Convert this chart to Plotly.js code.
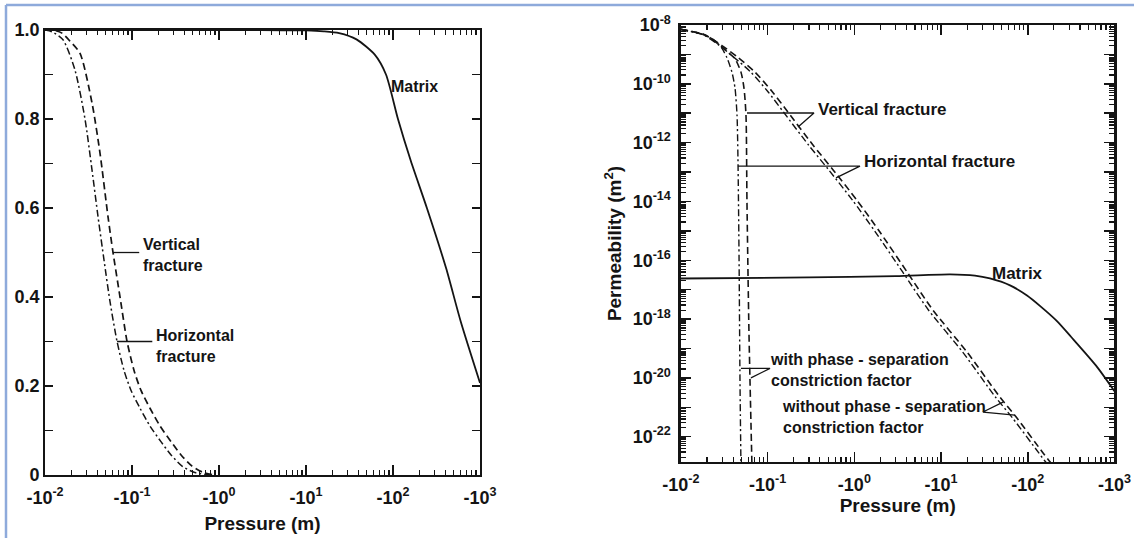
<!DOCTYPE html>
<html>
<head>
<meta charset="utf-8">
<script src="https://cdn.plot.ly/plotly-3.0.1.min.js"></script>
<style>
  html, body { margin: 0; padding: 0; background: #ffffff; }
  #chart { width: 1134px; height: 538px; }
</style>
</head>
<body>
<div id="chart"></div>
<script>
// ---------- tick labels ----------
const pressureTicks = [0.01, 0.1, 1, 10, 100, 1000];
const pressureTickText = ['-10<sup>-2</sup>', '-10<sup>-1</sup>', '-10<sup>0</sup>', '-10<sup>1</sup>', '-10<sup>2</sup>', '-10<sup>3</sup>'];
const satTicks = [0, 0.1, 0.2, 0.3, 0.4, 0.5, 0.6, 0.7, 0.8, 0.9, 1.0];
const satTickText = ['0', '', '0.2', '', '0.4', '', '0.6', '', '0.8', '', '1.0'];
const permTicks = [1e-8, 1e-9, 1e-10, 1e-11, 1e-12, 1e-13, 1e-14, 1e-15, 1e-16, 1e-17, 1e-18, 1e-19, 1e-20, 1e-21, 1e-22];
const permTickText = ['10<sup>-8</sup>', '', '10<sup>-10</sup>', '', '10<sup>-12</sup>', '', '10<sup>-14</sup>', '', '10<sup>-16</sup>', '', '10<sup>-18</sup>', '', '10<sup>-20</sup>', '', '10<sup>-22</sup>'];

// ---------- left panel: saturation vs pressure (magnitude, m) ----------
const satMatrixP = [0.01, 0.3, 3, 10, 16, 24, 38, 62, 83, 114, 160, 245, 407, 600, 1000];
const satMatrix  = [1.0, 1.0, 1.0, 0.999, 0.997, 0.993, 0.979, 0.944, 0.90, 0.80, 0.706, 0.60, 0.465, 0.345, 0.207];

const satVertP = [0.01, 0.0130, 0.01567, 0.01936, 0.0252, 0.0347, 0.0428, 0.053, 0.0605, 0.0728, 0.0877, 0.1055, 0.1268, 0.161, 0.21, 0.281, 0.366, 0.49, 0.655, 0.90];
const satVert  = [1.0, 0.999, 0.993, 0.975, 0.948, 0.836, 0.724, 0.580, 0.50, 0.40, 0.30, 0.235, 0.19, 0.15, 0.11, 0.075, 0.045, 0.02, 0.006, 0.0];

const satHorzP = [0.01, 0.01202, 0.0161, 0.0221, 0.0288, 0.0347, 0.0407, 0.0479, 0.0558, 0.0673, 0.0809, 0.0975, 0.1236, 0.161, 0.215, 0.281, 0.376, 0.516, 0.789];
const satHorz  = [1.0, 0.996, 0.978, 0.910, 0.80, 0.685, 0.580, 0.48, 0.39, 0.30, 0.235, 0.19, 0.15, 0.11, 0.075, 0.045, 0.02, 0.006, 0.0];

// ---------- right panel: permeability (m^2) vs pressure (magnitude, m) ----------
const permMatrixP = [0.01, 0.3, 3, 12.7, 24.6, 36.6, 62.4, 98, 138, 217, 315, 613, 1000];
const permMatrix  = [2.4e-17, 2.6e-17, 2.9e-17, 3.3e-17, 3.0e-17, 2.4e-17, 1.4e-17, 6.3e-18, 2.8e-18, 8.5e-19, 2.5e-19, 2.6e-20, 3.5e-21];

// without phase-separation constriction factor
const permVertNoP = [0.01, 0.0189, 0.0297, 0.0454, 0.0714, 0.112, 0.171, 0.333, 0.566, 1.07, 1.97, 4.05, 8.07, 19.9, 47.8, 75.0, 150, 180, 200];
const permVertNo  = [7.1e-9, 4.6e-9, 2.0e-9, 7.9e-10, 2.5e-10, 5.6e-11, 1.1e-11, 8.3e-13, 1.2e-13, 1.1e-14, 9.1e-16, 4.0e-17, 2.0e-18, 7.6e-20, 2.2e-21, 4.3e-22, 2.8e-23, 1.4e-23, 1.0e-23];
const permHorzNoP = [0.01, 0.0182, 0.0278, 0.0410, 0.0640, 0.0998, 0.152, 0.296, 0.504, 0.952, 1.75, 3.60, 7.18, 17.7, 42.5, 66.8, 134, 160, 178];
const permHorzNo  = [7.1e-9, 4.6e-9, 2.0e-9, 7.9e-10, 2.5e-10, 5.6e-11, 1.1e-11, 8.3e-13, 1.2e-13, 1.1e-14, 9.1e-16, 4.0e-17, 2.0e-18, 7.6e-20, 2.2e-21, 4.3e-22, 2.8e-23, 1.4e-23, 1.0e-23];

// with phase-separation constriction factor
const permVertWithP = [0.01, 0.0189, 0.0297, 0.0355, 0.042, 0.0492, 0.0533, 0.0562, 0.0577, 0.0608, 0.0659];
const permVertWith  = [7.1e-9, 4.6e-9, 1.8e-9, 1.12e-9, 7.1e-10, 2.5e-10, 7.2e-11, 8.7e-12, 1e-14, 4e-19, 1e-23];
const permHorzWithP = [0.01, 0.0189, 0.0251, 0.0297, 0.034, 0.0387, 0.042, 0.0443, 0.0454, 0.0468, 0.0479, 0.0492];
const permHorzWith  = [7.1e-9, 4.6e-9, 2.8e-9, 1.6e-9, 7.6e-10, 2.5e-10, 7.2e-11, 8.7e-12, 3.2e-13, 1e-16, 1e-20, 1e-23];

// ---------- leader lines for the labels (data units) ----------
const leadVertLeftP = [0.0605, 0.121];          const leadVertLeftS = [0.5, 0.5];
const leadHorzLeftP = [0.0673, 0.171];          const leadHorzLeftS = [0.30, 0.30];
const leadVertRightP = [0.0577, 0.342, 0.224];  const leadVertRightK = [1.02e-11, 1.02e-11, 3.4e-12];
const leadHorzRightP = [0.0454, 1.16, 0.614];   const leadHorzRightK = [1.58e-13, 1.58e-13, 6.3e-14];
const leadWithP = [0.0492, 0.1064, 0.0641];     const leadWithK = [2.1e-20, 2.1e-20, 1.0e-20];
const leadWithoutP = [51.8, 30.4, 71.1];        const leadWithoutK = [1.5e-21, 6.9e-22, 5.4e-22];

// ---------- label texts ----------
const lblMatrix = 'Matrix';
const lblVertLeft = 'Vertical<br>fracture';
const lblHorzLeft = 'Horizontal<br>fracture';
const lblVertRight = 'Vertical fracture';
const lblHorzRight = 'Horizontal fracture';
const lblWith = 'with phase - separation<br>constriction factor';
const lblWithout = 'without phase - separation<br>constriction factor';
const xTitle = 'Pressure (m)';
const yTitleRight = 'Permeability (m<sup>2</sup>)';

// ---------- minor tick positions ----------
const minorP = [];
for (let e = -2; e < 3; e++) for (let m = 2; m <= 9; m++) minorP.push(m * Math.pow(10, e));
const minorK = [];
for (let e = -23; e < -8; e++) for (let m = 2; m <= 9; m++) minorK.push(m * Math.pow(10, e));

const INK = '#141414';
const DASH = '7px,4px';
const DASHDOT = '7px,3px,2px,3px';
const FONT = 'Liberation Sans, Arial, sans-serif';

function line(x, y, xa, ya, dash, width, shape) {
  return { x: x, y: y, xaxis: xa, yaxis: ya, type: 'scatter', mode: 'lines',
    line: { color: INK, width: width || 1.6, dash: dash || 'solid', shape: shape || 'spline', smoothing: 0.7 },
    hoverinfo: 'skip' };
}

const traces = [
  line(satMatrixP, satMatrix, 'x', 'y', 'solid', 1.8),
  line(satVertP, satVert, 'x', 'y', DASH, 1.7),
  line(satHorzP, satHorz, 'x', 'y', DASHDOT, 1.5),
  line(permMatrixP, permMatrix, 'x2', 'y2', 'solid', 1.8),
  line(permVertNoP, permVertNo, 'x2', 'y2', DASH, 1.6),
  line(permHorzNoP, permHorzNo, 'x2', 'y2', DASHDOT, 1.4),
  line(permVertWithP, permVertWith, 'x2', 'y2', DASH, 1.6),
  line(permHorzWithP, permHorzWith, 'x2', 'y2', DASHDOT, 1.4),
  line(leadVertLeftP, leadVertLeftS, 'x', 'y', 'solid', 1.3, 'linear'),
  line(leadHorzLeftP, leadHorzLeftS, 'x', 'y', 'solid', 1.3, 'linear'),
  line(leadVertRightP, leadVertRightK, 'x2', 'y2', 'solid', 1.3, 'linear'),
  line(leadHorzRightP, leadHorzRightK, 'x2', 'y2', 'solid', 1.3, 'linear'),
  line(leadWithP, leadWithK, 'x2', 'y2', 'solid', 1.3, 'linear'),
  line(leadWithoutP, leadWithoutK, 'x2', 'y2', 'solid', 1.3, 'linear')
];

const tickFont = { family: FONT, size: 18, color: INK, weight: 'bold' };
const titleFont = { family: FONT, size: 19, color: INK, weight: 'bold' };

function xAxis(domain, anchor, standoff) {
  return {
    domain: domain, anchor: anchor, type: 'log', range: [-2, 3],
    tickmode: 'array', tickvals: pressureTicks, ticktext: pressureTickText,
    ticks: 'inside', ticklen: 10, tickwidth: 1.5, tickcolor: INK,
    minor: { tickmode: 'array', tickvals: minorP, ticks: 'inside', ticklen: 5, tickwidth: 1.2, tickcolor: INK, showgrid: false },
    showline: true, linewidth: 2, linecolor: INK, mirror: 'ticks',
    showgrid: false, zeroline: false, tickfont: tickFont, ticklabelstandoff: 5,
    title: { text: xTitle, font: titleFont, standoff: standoff }
  };
}

const layout = {
  width: 1134, height: 538,
  margin: { l: 0, r: 0, t: 0, b: 0 },
  paper_bgcolor: '#ffffff', plot_bgcolor: '#ffffff',
  showlegend: false,
  font: { family: FONT, size: 16, color: INK },
  xaxis: xAxis([0.0397, 0.4233], 'y', 10),
  yaxis: {
    domain: [0.1171, 0.9442], anchor: 'x', range: [0, 1],
    tickmode: 'array', tickvals: satTicks, ticktext: satTickText,
    ticks: 'inside', ticklen: 8, tickwidth: 1.5, tickcolor: INK,
    showline: true, linewidth: 2, linecolor: INK, mirror: 'ticks',
    showgrid: false, zeroline: false, tickfont: tickFont, ticklabelstandoff: 0
  },
  xaxis2: xAxis([0.6005, 0.9828], 'y2', 5),
  yaxis2: {
    domain: [0.1413, 0.9535], anchor: 'x2', type: 'log', range: [-22.86, -8],
    tickmode: 'array', tickvals: permTicks, ticktext: permTickText,
    ticks: 'inside', ticklen: 10, tickwidth: 1.5, tickcolor: INK,
    minor: { tickmode: 'array', tickvals: minorK, ticks: 'inside', ticklen: 5, tickwidth: 1.2, tickcolor: INK, showgrid: false },
    showline: true, linewidth: 2.5, linecolor: INK, mirror: 'ticks',
    showgrid: false, zeroline: false, tickfont: tickFont, ticklabelstandoff: 4,
    title: { text: yTitleRight, font: titleFont, standoff: 6 }
  },
  annotations: [
    { xref: 'x', yref: 'y', x: Math.log10(89), y: 0.874, text: lblMatrix, showarrow: false, xanchor: 'left', yanchor: 'middle', font: { family: FONT, size: 16, color: INK, weight: 'bold' } },
    { xref: 'x', yref: 'y', x: Math.log10(0.128), y: 0.495, text: lblVertLeft, showarrow: false, xanchor: 'left', yanchor: 'middle', align: 'left', font: { family: FONT, size: 16, color: INK, weight: 'bold' } },
    { xref: 'x', yref: 'y', x: Math.log10(0.180), y: 0.291, text: lblHorzLeft, showarrow: false, xanchor: 'left', yanchor: 'middle', align: 'left', font: { family: FONT, size: 16, color: INK, weight: 'bold' } },
    { xref: 'x2', yref: 'y2', x: Math.log10(0.36), y: -10.89, text: lblVertRight, showarrow: false, xanchor: 'left', yanchor: 'middle', font: { family: FONT, size: 17, color: INK, weight: 'bold' } },
    { xref: 'x2', yref: 'y2', x: Math.log10(1.22), y: -12.63, text: lblHorzRight, showarrow: false, xanchor: 'left', yanchor: 'middle', font: { family: FONT, size: 17, color: INK, weight: 'bold' } },
    { xref: 'x2', yref: 'y2', x: Math.log10(36.6), y: -16.45, text: lblMatrix, showarrow: false, xanchor: 'left', yanchor: 'middle', font: { family: FONT, size: 17, color: INK, weight: 'bold' } },
    { xref: 'x2', yref: 'y2', x: Math.log10(0.102), y: -19.72, text: lblWith, showarrow: false, xanchor: 'left', yanchor: 'middle', align: 'left', font: { family: FONT, size: 16, color: INK, weight: 'bold' } },
    { xref: 'x2', yref: 'y2', x: Math.log10(0.137), y: -21.33, text: lblWithout, showarrow: false, xanchor: 'left', yanchor: 'middle', align: 'left', font: { family: FONT, size: 16, color: INK, weight: 'bold' } }
  ],
  shapes: [
    { type: 'line', xref: 'paper', yref: 'paper', x0: 6 / 1134, x1: 6 / 1134, y0: 0, y1: 1 - 5 / 538, line: { color: '#8eaadb', width: 2.5 } },
    { type: 'line', xref: 'paper', yref: 'paper', x0: 6 / 1134, x1: 1, y0: 1 - 5 / 538, y1: 1 - 5 / 538, line: { color: '#8eaadb', width: 2.5 } }
  ]
};

Plotly.newPlot('chart', traces, layout, { staticPlot: true, displayModeBar: false });
</script>
</body>
</html>
